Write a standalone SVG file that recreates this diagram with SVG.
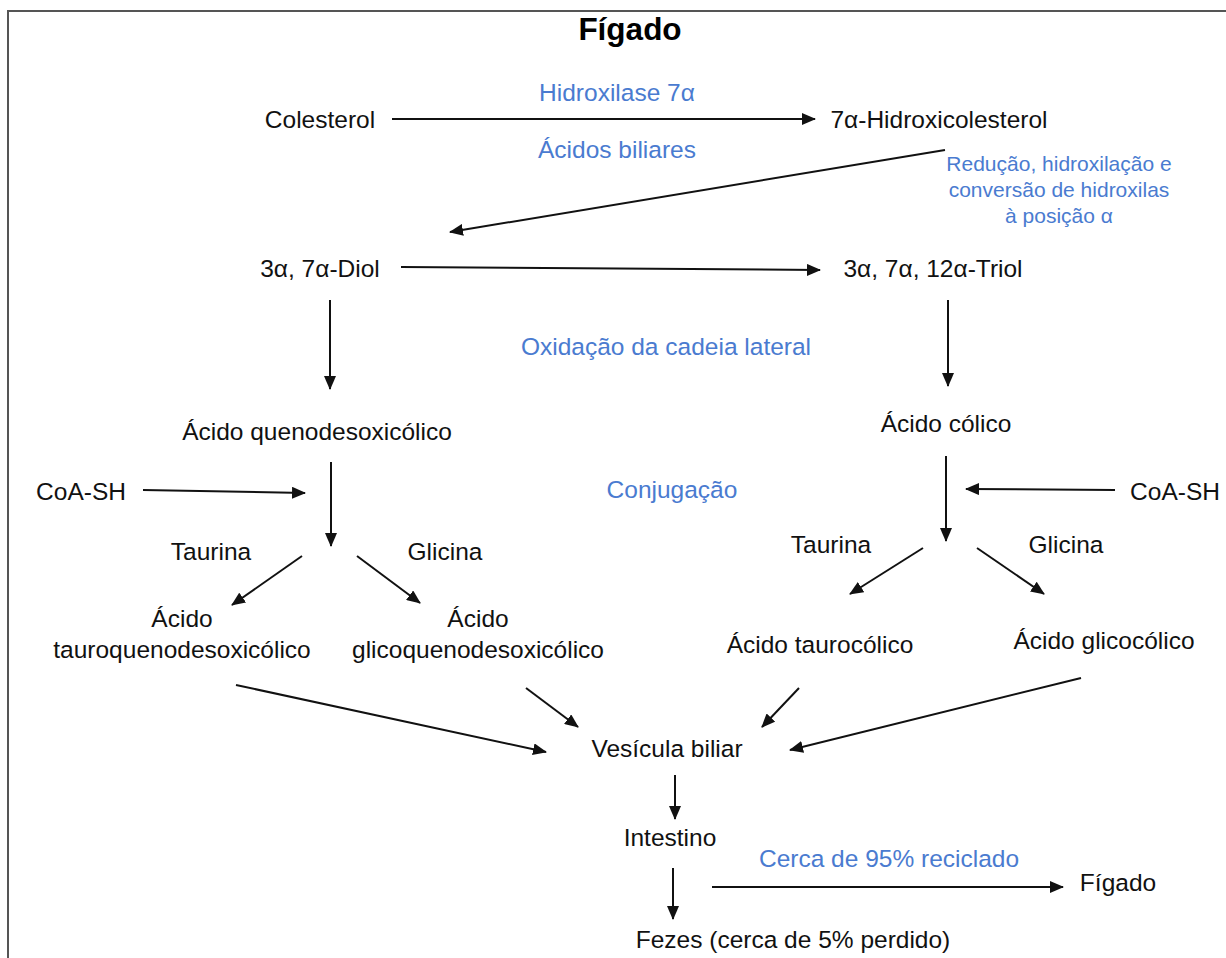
<svg xmlns="http://www.w3.org/2000/svg" width="1226" height="958" viewBox="0 0 1226 958">
<defs>
<marker id="ah" markerUnits="userSpaceOnUse" markerWidth="14" markerHeight="12" refX="13" refY="6" orient="auto">
<path d="M0,0 L14,6 L0,12 z" fill="#111"/>
</marker>
<style>
.t{font-family:"Liberation Sans",Arial,sans-serif;font-size:24.5px;fill:#111;text-anchor:middle}
.b{font-family:"Liberation Sans",Arial,sans-serif;font-size:24.5px;fill:#4a7bd0;text-anchor:middle}
.s{font-family:"Liberation Sans",Arial,sans-serif;font-size:21px;fill:#4a7bd0;text-anchor:middle}
.h{font-family:"Liberation Sans",Arial,sans-serif;font-size:31.5px;font-weight:bold;fill:#000;text-anchor:middle}
.c{stroke:#111;stroke-width:2;fill:none;marker-end:url(#ah)}
</style>
</defs>
<rect width="1226" height="958" fill="#fff"/>
<rect x="8" y="11" width="1240" height="980" fill="none" stroke="#555" stroke-width="2"/>
<text class="h" x="630" y="40">Fígado</text>

<g id="colesterol"><text class="t" x="320" y="128">Colesterol</text></g>
<g id="hidroxicolesterol"><text class="t" x="939" y="128">7α-Hidroxicolesterol</text></g>
<g id="lbl-hidroxilase"><text class="b" x="617" y="101">Hidroxilase 7α</text></g>
<g id="lbl-acidos"><text class="b" x="617" y="158">Ácidos biliares</text></g>
<g id="lbl-reducao"><text class="s" x="1059" y="171">Redução, hidroxilação e</text><text class="s" x="1059" y="197">conversão de hidroxilas</text><text class="s" x="1059" y="223">à posição α</text></g>
<g id="diol"><text class="t" x="320" y="277">3α, 7α-Diol</text></g>
<g id="triol"><text class="t" x="933" y="277">3α, 7α, 12α-Triol</text></g>
<g id="lbl-oxidacao"><text class="b" x="666" y="355">Oxidação da cadeia lateral</text></g>
<g id="quenodesoxicolico"><text class="t" x="317" y="440">Ácido quenodesoxicólico</text></g>
<g id="colico"><text class="t" x="946" y="432">Ácido cólico</text></g>
<g id="coash-l"><text class="t" x="81" y="500">CoA-SH</text></g>
<g id="coash-r"><text class="t" x="1175" y="500">CoA-SH</text></g>
<g id="lbl-conjugacao"><text class="b" x="672" y="498">Conjugação</text></g>
<g id="taurina-l"><text class="t" x="211" y="560">Taurina</text></g>
<g id="glicina-l"><text class="t" x="445" y="560">Glicina</text></g>
<g id="taurina-r"><text class="t" x="831" y="553">Taurina</text></g>
<g id="glicina-r"><text class="t" x="1066" y="553">Glicina</text></g>
<g id="tauroqueno"><text class="t" x="182" y="627">Ácido</text><text class="t" x="182" y="658">tauroquenodesoxicólico</text></g>
<g id="glicoqueno"><text class="t" x="478" y="627">Ácido</text><text class="t" x="478" y="658">glicoquenodesoxicólico</text></g>
<g id="taurocolico"><text class="t" x="820" y="653">Ácido taurocólico</text></g>
<g id="glicocolico"><text class="t" x="1104" y="649">Ácido glicocólico</text></g>
<g id="vesicula"><text class="t" x="667" y="757">Vesícula biliar</text></g>
<g id="intestino"><text class="t" x="670" y="846">Intestino</text></g>
<g id="fezes"><text class="t" x="793" y="948">Fezes (cerca de 5% perdido)</text></g>
<g id="lbl-cerca"><text class="b" x="889" y="867">Cerca de 95% reciclado</text></g>
<g id="figado"><text class="t" x="1118" y="891">Fígado</text></g>

<g id="connectors">
<line class="c" x1="392" y1="119" x2="815" y2="119"/>
<line class="c" x1="945" y1="150" x2="450" y2="232"/>
<line class="c" x1="401" y1="267" x2="820" y2="270"/>
<line class="c" x1="330" y1="300" x2="330" y2="389"/>
<line class="c" x1="948" y1="300" x2="948" y2="386"/>
<line class="c" x1="143" y1="490" x2="305" y2="493"/>
<line class="c" x1="331" y1="462" x2="331" y2="546"/>
<line class="c" x1="946" y1="456" x2="946" y2="541"/>
<line class="c" x1="1115" y1="490" x2="966" y2="489"/>
<line class="c" x1="302" y1="556" x2="232" y2="605"/>
<line class="c" x1="357" y1="556" x2="420" y2="603"/>
<line class="c" x1="923" y1="548" x2="850" y2="594"/>
<line class="c" x1="977" y1="548" x2="1044" y2="594"/>
<line class="c" x1="236" y1="685" x2="546" y2="752"/>
<line class="c" x1="526" y1="688" x2="578" y2="727"/>
<line class="c" x1="799" y1="688" x2="762" y2="727"/>
<line class="c" x1="1081" y1="678" x2="790" y2="750"/>
<line class="c" x1="675" y1="775" x2="675" y2="819"/>
<line class="c" x1="673" y1="868" x2="673" y2="919"/>
<line class="c" x1="712" y1="887" x2="1063" y2="887"/>
</g>
</svg>
